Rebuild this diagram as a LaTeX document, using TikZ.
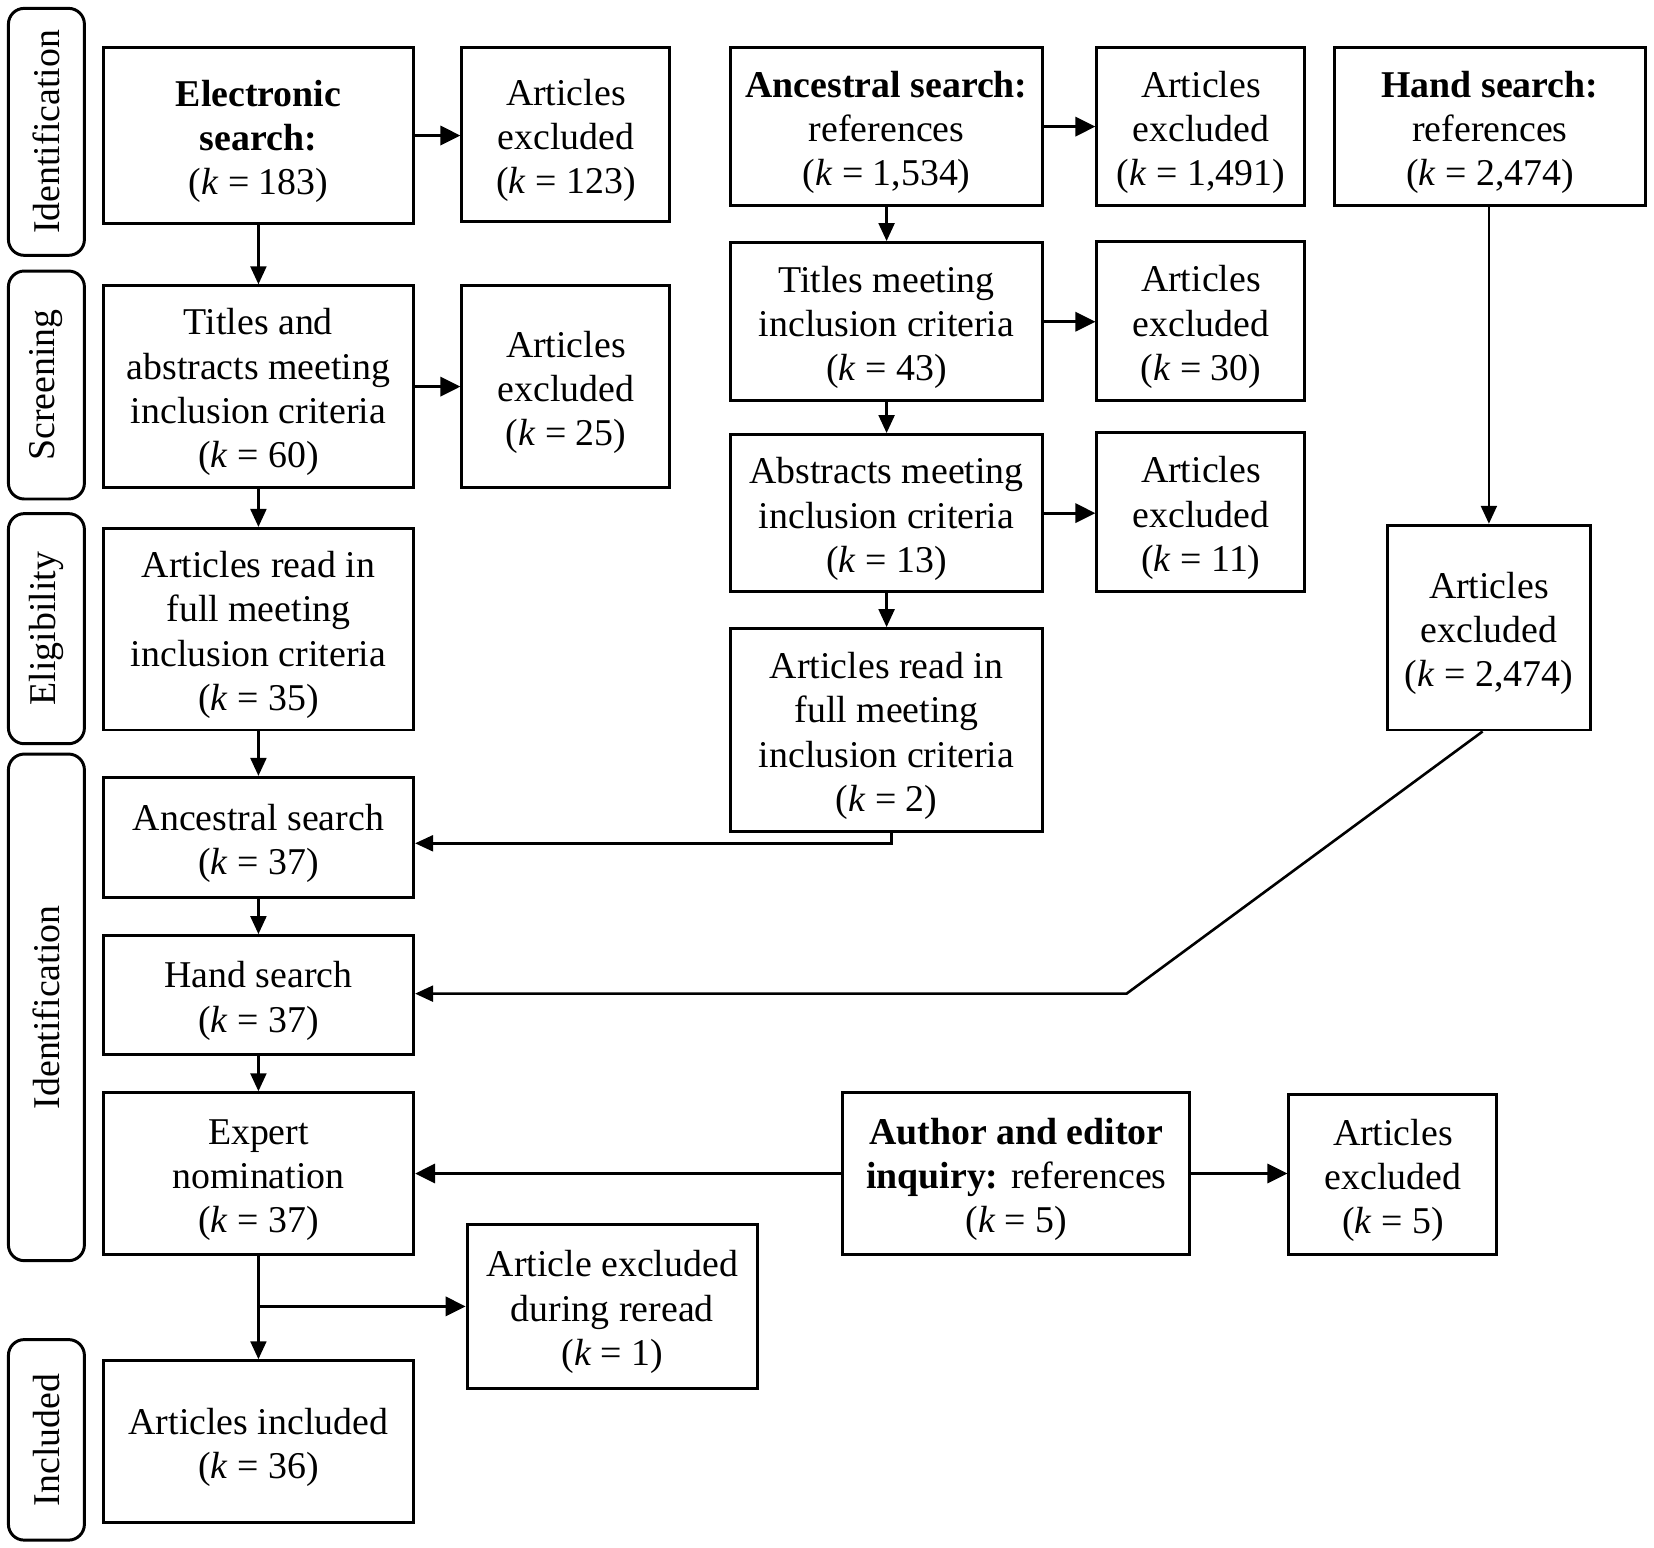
\documentclass[tikz,border=0pt]{standalone}
\usepackage{fontspec}
\setmainfont{Liberation Serif}
\usetikzlibrary{arrows.meta,calc}
\newcommand{\myTS}{\rule{0pt}{10.2pt}}
\begin{document}
\begin{tikzpicture}[x=0.01cm,y=-0.01cm,
  every node/.style={font=\fontsize{10.2}{11.95}\selectfont},
  box/.style={draw,line width=0.8pt,align=center,inner sep=0pt},
  lbl/.style={draw,line width=0.8pt,rounded corners=0.15cm,rotate=90,inner sep=0pt,minimum height=0.72cm},
  arr/.style={line width=0.7pt,-{Triangle[length=0.17cm,width=0.15cm]}},
  xarr/.style={line width=0.9pt,-{Triangle[length=0.19cm,width=0.18cm]}}]
\useasboundingbox (0,0) rectangle (1568,1467);
% stage labels
\node[lbl,minimum width=2.34cm] (L1) at (44,125) {Identification};
\node[lbl,minimum width=2.16cm] (L2) at (44,365) {Screening};
\node[lbl,minimum width=2.18cm] (L3) at (44,596) {Eligibility};
\node[lbl,minimum width=4.80cm] (L4) at (44,955) {Identification};
\node[lbl,minimum width=1.90cm] (L5) at (44,1365) {Included};
% column 1
\node[box,minimum width=2.94cm,minimum height=1.67cm] (e1) at (245,128.5) {\myTS\textbf{Electronic}\\\textbf{search:}\\(\textit{k} = 183)};
\node[box,minimum width=2.94cm,minimum height=1.91cm] (t1) at (245,366.5) {\myTS Titles and\\abstracts meeting\\inclusion criteria\\(\textit{k} = 60)};
\node[box,minimum width=2.94cm,minimum height=1.91cm] (f1) at (245,596.5) {\myTS Articles read in\\full meeting\\inclusion criteria\\(\textit{k} = 35)};
\node[box,minimum width=2.94cm,minimum height=1.14cm] (a1) at (245,794) {\myTS Ancestral search\\(\textit{k} = 37)};
\node[box,minimum width=2.94cm,minimum height=1.13cm] (h1) at (245,943.5) {\myTS Hand search\\(\textit{k} = 37)};
\node[box,minimum width=2.94cm,minimum height=1.53cm] (n1) at (245,1112.5) {\myTS Expert\\nomination\\(\textit{k} = 37)};
\node[box,minimum width=2.94cm,minimum height=1.53cm] (i1) at (245,1366.5) {\myTS Articles included\\(\textit{k} = 36)};
% column 2
\node[box,minimum width=1.97cm,minimum height=1.65cm] (x1) at (536.5,127.5) {\myTS Articles\\excluded\\(\textit{k} = 123)};
\node[box,minimum width=1.97cm,minimum height=1.91cm] (x2) at (536.5,366.5) {\myTS Articles\\excluded\\(\textit{k} = 25)};
\node[box,minimum width=2.75cm,minimum height=1.55cm] (r1) at (580.5,1238.5) {\myTS Article excluded\\during reread\\(\textit{k} = 1)};
% column 3
\node[box,minimum width=2.95cm,minimum height=1.50cm] (a2) at (840.5,120) {\myTS\textbf{Ancestral search:}\\references\\(\textit{k} = 1,534)};
\node[box,minimum width=2.95cm,minimum height=1.50cm] (t2) at (840.5,305) {\myTS Titles meeting\\inclusion criteria\\(\textit{k} = 43)};
\node[box,minimum width=2.95cm,minimum height=1.49cm] (ab2) at (840.5,486.5) {\myTS Abstracts meeting\\inclusion criteria\\(\textit{k} = 13)};
\node[box,minimum width=2.95cm,minimum height=1.92cm] (f2) at (840.5,692) {\myTS Articles read in\\full meeting\\inclusion criteria\\(\textit{k} = 2)};
% column 4
\node[box,minimum width=1.97cm,minimum height=1.50cm] (x3) at (1138.5,120) {\myTS Articles\\excluded\\(\textit{k} = 1,491)};
\node[box,minimum width=1.97cm,minimum height=1.51cm] (x4) at (1138.5,304.5) {\myTS Articles\\excluded\\(\textit{k} = 30)};
\node[box,minimum width=1.97cm,minimum height=1.51cm] (x5) at (1138.5,485.5) {\myTS Articles\\excluded\\(\textit{k} = 11)};
% column 5
\node[box,minimum width=2.95cm,minimum height=1.50cm] (hs) at (1412.5,120) {\myTS\textbf{Hand search:}\\references\\(\textit{k} = 2,474)};
\node[box,minimum width=1.93cm,minimum height=1.94cm] (x6) at (1411.5,595) {\myTS Articles\\excluded\\(\textit{k} = 2,474)};
% author inquiry
\node[box,minimum width=3.29cm,minimum height=1.53cm] (au) at (963.5,1112.5) {\myTS\textbf{Author and editor}\\\textbf{inquiry:} references\\(\textit{k} = 5)};
\node[box,minimum width=1.97cm,minimum height=1.51cm] (x7) at (1320.5,1113.5) {\myTS Articles\\excluded\\(\textit{k} = 5)};
% connectors
\draw[xarr] (e1.east) -- (x1.west |- e1.east);
\draw[arr] (e1) -- (t1);
\draw[xarr] (t1) -- (x2);
\draw[arr] (t1) -- (f1);
\draw[arr] (f1) -- (a1);
\draw[arr] (a1) -- (h1);
\draw[arr] (h1) -- (n1);
\draw[arr] (n1) -- (i1);
\draw[xarr] (n1.south |- r1.west) -- (r1.west);
\draw[xarr] (a2.east) -- (x3.west |- a2.east);
\draw[arr] (a2) -- (t2);
\draw[xarr] (t2) -- (x4.west |- t2.east);
\draw[arr] (t2) -- (ab2);
\draw[xarr] (ab2) -- (x5.west |- ab2.east);
\draw[arr] (ab2) -- (f2);
\coordinate (c1) at ($(f2.south)+(4.5,10)$);
\draw[arr] ($(f2.south)+(4.5,0)$) -- (c1) -- (c1 -| a1.east);
\draw[arr] (hs.south -| x6.north) -- (x6.north);
\coordinate (bend) at (1068,942);
\draw[arr] ($(x6.south)+(-6,0)$) -- (bend) -- (bend -| h1.east);
\draw[xarr] (au) -- (n1);
\draw[xarr] (au.east) -- (x7.west |- au.east);
\end{tikzpicture}
\end{document}
